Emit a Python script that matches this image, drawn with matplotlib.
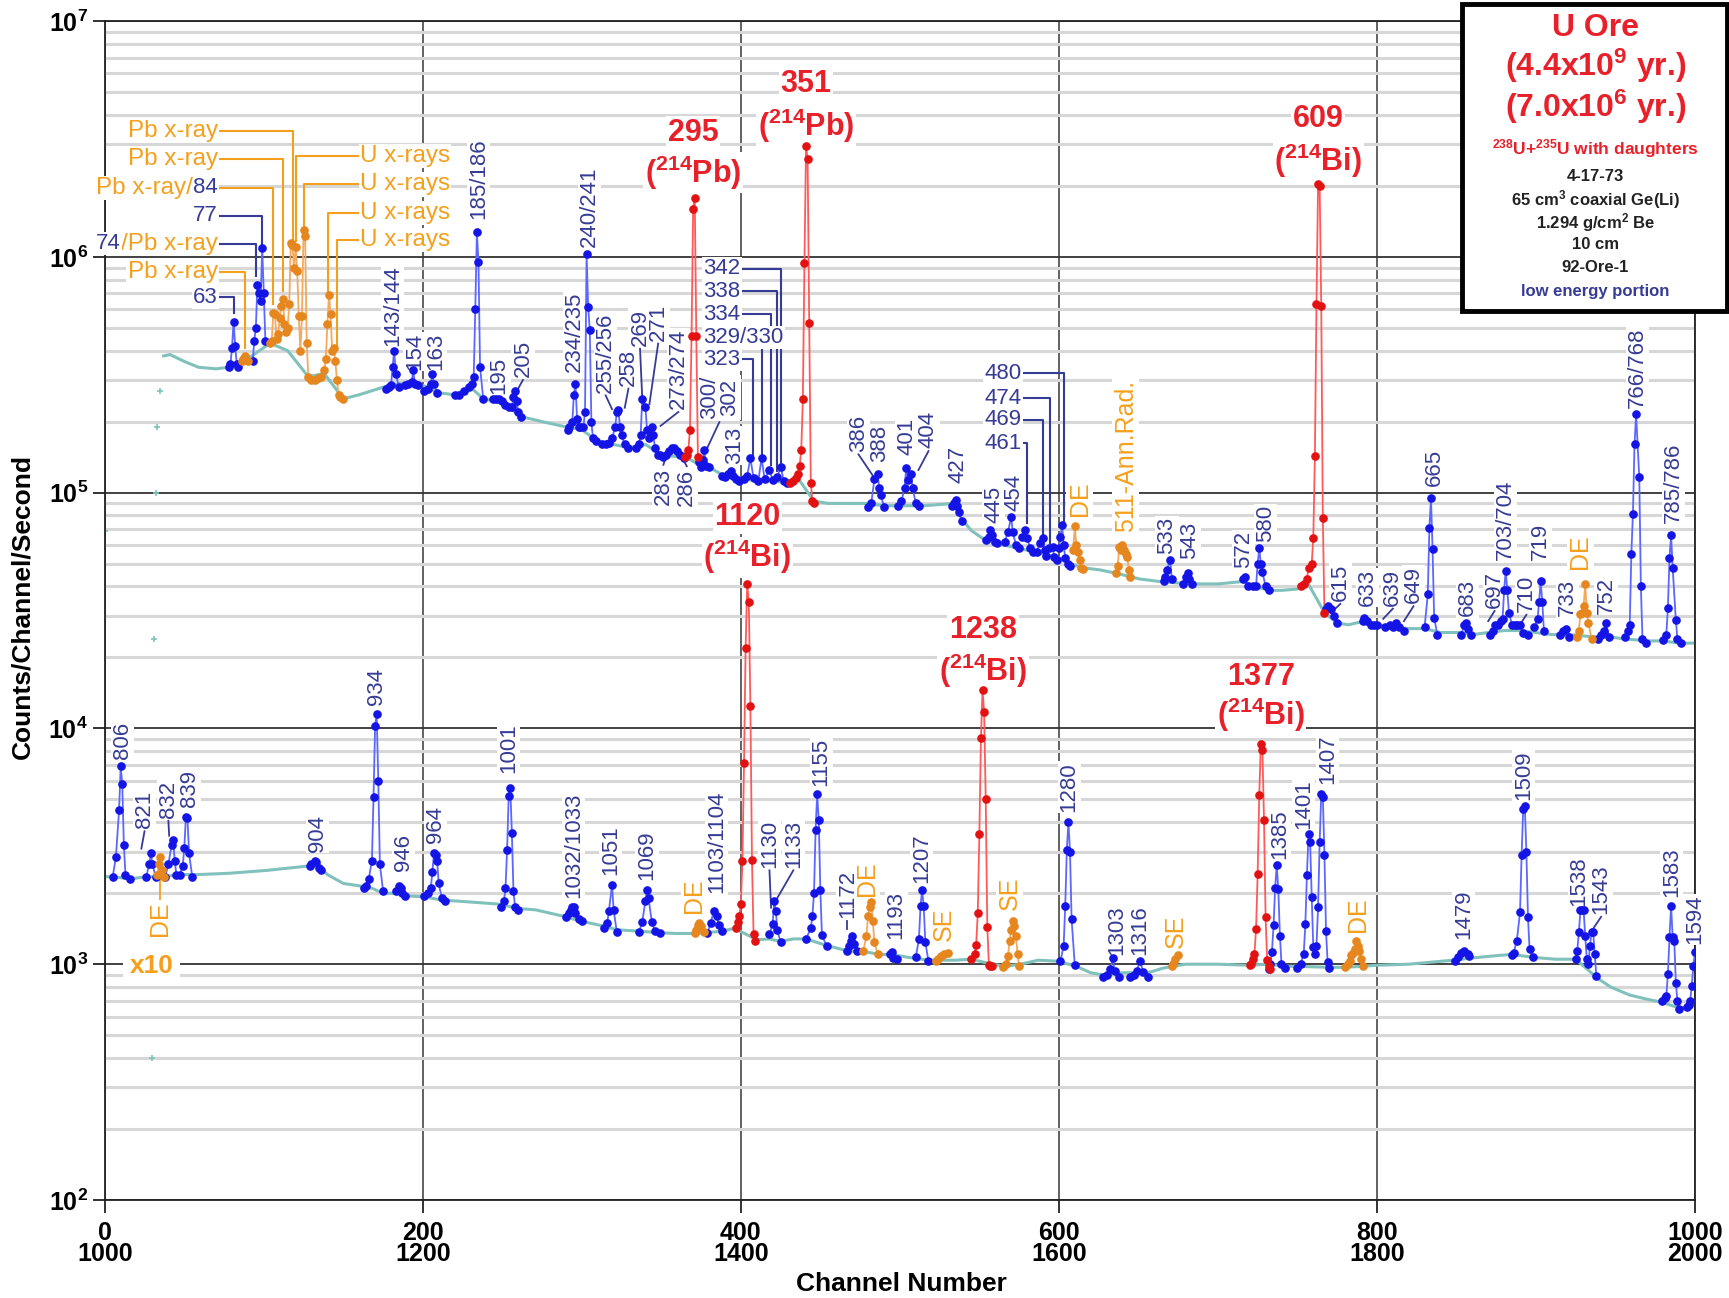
import numpy as np
import matplotlib
matplotlib.use('Agg')
import matplotlib.pyplot as plt
from matplotlib import font_manager
from matplotlib.patches import Rectangle

_names = {f.name for f in font_manager.fontManager.ttflist}
NARROW = 'Liberation Sans Narrow' if 'Liberation Sans Narrow' in _names else 'Liberation Sans'

plt.rcParams['font.family'] = ['Liberation Sans', 'DejaVu Sans']
plt.rcParams['mathtext.fontset'] = 'custom'
plt.rcParams['mathtext.rm'] = 'Liberation Sans:bold'
plt.rcParams['mathtext.it'] = 'Liberation Sans:bold'
plt.rcParams['mathtext.bf'] = 'Liberation Sans:bold'
plt.rcParams['mathtext.default'] = 'rm'

# ---------------- data: upper spectrum (channels 0-1000) ----------------
UP_BG = [(37,3.8e5),(41,3.85e5),(50,3.6e5),(59,3.4e5),(70,3.35e5),(78,3.4e5),(90,3.7e5),(104,4.3e5),
         (115,4.0e5),(128,3.1e5),(138,3.2e5),(150,2.5e5),(160,2.6e5),(175,2.8e5),(185,2.9e5),(200,2.85e5),
         (210,2.65e5),(220,2.6e5),(230,2.8e5),(238,2.5e5),(245,2.45e5),(252,2.35e5),(262,2.1e5),(275,2.0e5),
         (290,1.9e5),(300,1.85e5),(310,1.65e5),(320,1.6e5),(330,1.55e5),(340,1.6e5),(350,1.45e5),(360,1.42e5),
         (365,1.42e5),(375,1.3e5),(383,1.25e5),(390,1.17e5),(400,1.15e5),(410,1.12e5),(420,1.12e5),(430,1.1e5),
         (436,1.15e5),(446,9.2e4),(455,9.0e4),(465,9.0e4),(478,9.0e4),(490,8.8e4),(500,8.8e4),(515,8.8e4),
         (525,8.9e4),(534,9.0e4),(539,7.7e4),(545,6.9e4),(552,6.4e4),(560,6.1e4),(570,5.9e4),(580,5.7e4),
         (590,5.5e4),(600,5.3e4),(607,5.0e4),(615,4.8e4),(626,4.7e4),(636,4.55e4),(645,4.4e4),(651,4.3e4),
         (663,4.2e4),(672,4.15e4),(685,4.1e4),(700,4.1e4),(716,4.2e4),(724,4.0e4),(732,3.85e4),(740,3.85e4),
         (750,3.9e4),(756,4.2e4),(767,3.1e4),(775,2.8e4),(782,2.75e4),(792,2.85e4),(800,2.75e4),(810,2.7e4),
         (820,2.65e4),(830,2.65e4),(840,2.55e4),(853,2.55e4),(860,2.5e4),(870,2.55e4),(880,2.6e4),(890,2.6e4),
         (900,2.55e4),(910,2.5e4),(920,2.5e4),(935,2.45e4),(945,2.45e4),(955,2.4e4),(970,2.35e4),(980,2.35e4),
         (990,2.3e4),(1000,2.3e4)]
STRAY = [(0,6.9e4),(30,4.0e2),(31,2.4e4),(32,1.0e5),(33,1.9e5),(35,2.7e5)]

UP_BLUE = [
    ([78,79,80,81,82,83,84],[3.4e5,3.5e5,4.1e5,5.3e5,4.2e5,3.5e5,3.4e5]),
    ([93,94,95,96,97,98,99,100,101],[3.6e5,4.4e5,5.0e5,7.6e5,7.0e5,6.5e5,1.09e6,7.0e5,4.4e5]),
    ([177,179,180,181,182,183,185],[2.75e5,2.8e5,2.85e5,3.4e5,4.0e5,3.2e5,2.8e5]),
    ([189,191,193,194,195,197],[2.85e5,2.9e5,2.95e5,3.3e5,2.9e5,2.85e5]),
    ([201,203,205,206,207,209],[2.7e5,2.75e5,2.9e5,3.2e5,2.9e5,2.65e5]),
    ([220,223,226,229,231,232,233,234,235,236,238],[2.6e5,2.6e5,2.7e5,2.8e5,2.9e5,3.1e5,6.0e5,1.27e6,9.5e5,3.4e5,2.5e5]),
    ([244,246,248,250,252],[2.5e5,2.5e5,2.5e5,2.45e5,2.35e5]),
    ([254,256,257,258,259,260,262],[2.3e5,2.3e5,2.55e5,2.7e5,2.45e5,2.2e5,2.1e5]),
    ([291,292,294,295,296,297,298,299],[1.85e5,1.9e5,2.0e5,2.6e5,2.9e5,2.05e5,1.9e5,1.9e5]),
    ([301,302,303,304,305,306,307,309],[1.9e5,2.2e5,1.03e6,6.1e5,4.9e5,2.0e5,1.7e5,1.65e5]),
    ([313,315,317,319,321,322,323,324,325,327,329],[1.6e5,1.6e5,1.62e5,1.7e5,1.9e5,2.2e5,2.25e5,1.9e5,1.75e5,1.6e5,1.55e5]),
    ([334,336,337,338,340,341,342,344,345,346,348],[1.55e5,1.6e5,1.76e5,2.5e5,2.3e5,1.85e5,1.7e5,1.9e5,1.75e5,1.55e5,1.45e5]),
    ([349,351,353,355,357,358,360,362,364],[1.45e5,1.42e5,1.45e5,1.5e5,1.55e5,1.55e5,1.5e5,1.45e5,1.4e5]),
    ([374,375,376,377,378,380],[1.35e5,1.29e5,1.38e5,1.52e5,1.3e5,1.28e5]),
    ([388,390,392,394,395,397],[1.18e5,1.17e5,1.2e5,1.23e5,1.18e5,1.14e5]),
    ([399,402,404,406,408,411,413,415,418,420,423,425,427,429],
     [1.12e5,1.14e5,1.18e5,1.4e5,1.15e5,1.12e5,1.4e5,1.14e5,1.25e5,1.13e5,1.16e5,1.29e5,1.12e5,1.1e5]),
    ([480,482,484,486,487,488,490],[8.7e4,9.0e4,1.14e5,1.2e5,1.05e5,9.8e4,8.7e4]),
    ([499,501,503,504,505,507,508,510,512],[8.8e4,9.2e4,1.05e5,1.27e5,1.13e5,1.2e5,1.05e5,9.0e4,8.8e4]),
    ([533,534,535,536,537,539],[8.8e4,9.0e4,9.3e4,8.8e4,8.3e4,7.6e4]),
    ([554,556,557,558,560,561],[6.3e4,6.5e4,6.95e4,6.6e4,6.2e4,6.1e4]),
    ([566,568,570,571,573,575],[6.2e4,6.8e4,7.9e4,6.8e4,6.0e4,5.8e4]),
    ([577,579,580,582,584],[6.5e4,6.95e4,6.4e4,5.8e4,5.6e4]),
    ([586,588,590,591,592],[5.6e4,6.1e4,6.4e4,5.7e4,5.4e4]),
    ([594,596,597,599],[5.8e4,5.9e4,5.35e4,5.2e4]),
    ([600,601,602,603,604,606,607],[5.8e4,6.5e4,7.3e4,6.0e4,5.3e4,5.0e4,4.9e4]),
    ([666,667,668,670,671],[4.2e4,4.4e4,4.7e4,5.2e4,4.3e4]),
    ([678,680,681,682,684],[4.1e4,4.4e4,4.55e4,4.3e4,4.1e4]),
    ([716,717,719,722,724,725,726,727,728,730,732],[4.3e4,4.4e4,4.0e4,4.0e4,4.0e4,5.0e4,5.8e4,5.0e4,4.6e4,4.0e4,3.85e4]),
    ([768,769,771,773,775],[3.2e4,3.3e4,3.2e4,3.0e4,2.8e4]),
    ([791,792,794,796,798,800],[2.85e4,2.95e4,2.85e4,2.75e4,2.75e4,2.75e4]),
    ([805,808,810,812,814,817],[2.7e4,2.75e4,2.7e4,2.8e4,2.7e4,2.6e4]),
    ([830,832,833,834,835,836,838],[2.7e4,3.7e4,7.1e4,9.5e4,5.75e4,2.95e4,2.5e4]),
    ([853,855,856,857,859],[2.5e4,2.75e4,2.8e4,2.65e4,2.5e4]),
    ([871,873,874,876,878],[2.5e4,2.6e4,2.75e4,2.75e4,2.85e4]),
    ([879,880,881,882,883,885],[2.9e4,3.85e4,4.65e4,3.85e4,3.1e4,2.75e4]),
    ([887,888,890,892,895],[2.75e4,2.75e4,2.75e4,2.55e4,2.5e4]),
    ([899,901,902,903,904,905],[2.7e4,2.9e4,3.45e4,4.2e4,3.45e4,2.6e4]),
    ([915,917,919,921],[2.5e4,2.6e4,2.65e4,2.45e4]),
    ([939,941,943,944,946],[2.4e4,2.5e4,2.6e4,2.8e4,2.45e4]),
    ([956,958,959,960,961,962,963,965,966,967,969],[2.45e4,2.6e4,2.75e4,5.5e4,8.1e4,1.6e5,2.15e5,1.16e5,4.0e4,2.4e4,2.3e4]),
    ([980,982,983,984,985,986,988,989,991],[2.37e4,2.5e4,3.25e4,5.3e4,6.6e4,4.8e4,2.87e4,2.4e4,2.3e4]),
]
UP_ORANGE = [
    ([86,87,88,89,90],[3.6e5,3.7e5,3.8e5,3.7e5,3.6e5]),
    ([104,105,106,107,108,109,110,111,112,113,114,115,116,117,118,119,120,121,122,123,124,125,126,127,128,
      130,132,134,136,138,139,140,141,142,143,144,145,146,147,148,150],
     [4.3e5,4.4e5,5.8e5,5.7e5,4.5e5,4.7e5,5.5e5,6.2e5,6.6e5,5.2e5,4.8e5,5.0e5,6.3e5,1.15e6,1.12e6,9.0e5,1.1e6,
      8.7e5,5.6e5,4.0e5,5.6e5,1.3e6,1.22e6,4.3e5,3.1e5,3.0e5,3.0e5,3.05e5,3.1e5,3.3e5,3.7e5,5.2e5,6.9e5,5.7e5,
      4.0e5,4.1e5,3.6e5,3.0e5,2.6e5,2.55e5,2.5e5]),
    ([609,610,611,612,613,614,615],[5.7e4,7.2e4,6.0e4,5.6e4,5.2e4,4.8e4,4.75e4]),
    ([636,637,638,639,640,641,642,643,644,645],[4.55e4,4.9e4,5.9e4,5.7e4,6.0e4,5.7e4,5.5e4,5.35e4,4.7e4,4.4e4]),
    ([926,927,928,929,930,931,932,933,935],[2.45e4,2.6e4,3.05e4,3.1e4,3.3e4,4.1e4,3.1e4,2.8e4,2.4e4]),
]
UP_RED = [
    ([365,366,367,368,369,370,371,372,373],[1.42e5,1.45e5,1.52e5,1.85e5,4.6e5,1.6e6,1.78e6,4.6e5,1.42e5]),
    ([431,433,435,436,437,438,439,440,441,442,443,444,445,446],
     [1.1e5,1.12e5,1.15e5,1.2e5,1.3e5,1.52e5,2.5e5,9.4e5,2.95e6,2.6e6,5.25e5,1.1e5,9.2e4,9.0e4]),
    ([752,754,756,757,759,760,761,762,763,764,765,766,767],
     [4.0e4,4.1e4,4.3e4,4.8e4,5.0e4,6.4e4,1.43e5,6.3e5,2.03e6,2.0e6,6.2e5,7.8e4,3.1e4]),
]

# ---------------- data: lower spectrum (x10), channel minus 1000 ----------------
LO_BG = [(0,2.35e3),(5,2.35e3),(16,2.3e3),(26,2.35e3),(37,2.35e3),(47,2.4e3),(59,2.4e3),(78,2.43e3),
         (102,2.5e3),(126,2.6e3),(133,2.65e3),(140,2.4e3),(150,2.2e3),(160,2.15e3),(168,2.1e3),(175,2.0e3),
         (183,2.0e3),(190,1.95e3),(201,1.93e3),(212,1.87e3),(223,1.85e3),(247,1.8e3),(261,1.72e3),(271,1.7e3),
         (288,1.6e3),(300,1.52e3),(314,1.45e3),(322,1.4e3),(336,1.38e3),(349,1.36e3),(359,1.35e3),(372,1.35e3),
         (388,1.38e3),(396,1.42e3),(410,1.27e3),(418,1.28e3),(425,1.25e3),(433,1.28e3),(441,1.28e3),(454,1.2e3),
         (467,1.14e3),(473,1.13e3),(478,1.13e3),(487,1.1e3),(495,1.1e3),(505,1.07e3),(518,1.04e3),(523,1.04e3),
         (535,1.04e3),(545,1.05e3),(558,1.0e3),(566,9.8e2),(576,1.0e3),(587,1.04e3),(599,1.03e3),(611,9.8e2),
         (620,9.2e2),(628,9.0e2),(640,9.2e2),(656,9.2e2),(665,9.6e2),(671,9.8e2),(680,1.0e3),(700,1.0e3),
         (719,9.9e2),(732,1.0e3),(742,9.8e2),(750,9.8e2),(770,9.7e2),(780,9.7e2),(791,9.8e2),(800,9.9e2),
         (820,1.0e3),(848,1.04e3),(858,1.06e3),(877,1.09e3),(885,1.1e3),(898,1.07e3),(912,1.05e3),(925,1.05e3),
         (939,8.7e2),(947,8.0e2),(959,7.4e2),(970,7.1e2),(979,6.9e2),(991,6.5e2),(996,6.6e2)]

LO_BLUE = [
    ([5,7,9,10,11,12,13,16],[2.35e3,2.85e3,4.5e3,6.9e3,5.8e3,3.2e3,2.4e3,2.3e3]),
    ([26,28,29,30,32],[2.35e3,2.65e3,2.95e3,2.65e3,2.35e3]),
    ([38,40,42,43,44,45],[2.35e3,2.65e3,3.2e3,3.35e3,2.75e3,2.4e3]),
    ([47,49,50,51,52,53,55],[2.4e3,2.6e3,3.1e3,4.2e3,4.15e3,2.95e3,2.35e3]),
    ([129,130,132,133,135,136],[2.6e3,2.65e3,2.75e3,2.7e3,2.55e3,2.5e3]),
    ([163,164,166,168,169,170,171,172,173,175],[2.1e3,2.15e3,2.3e3,2.75e3,5.1e3,1.02e4,1.15e4,6.0e3,2.65e3,2.05e3]),
    ([183,185,186,187,189],[2.05e3,2.15e3,2.1e3,2.0e3,1.95e3]),
    ([201,203,205,206,207,208,209,210,212,214],[1.95e3,2.0e3,2.1e3,2.45e3,2.95e3,2.9e3,2.75e3,2.2e3,1.9e3,1.85e3]),
    ([249,251,252,253,254,255,256,257,258,260],[1.75e3,1.85e3,2.1e3,3.05e3,5.15e3,5.6e3,3.6e3,2.05e3,1.75e3,1.7e3]),
    ([290,292,293,294,295,296,298,300],[1.58e3,1.65e3,1.7e3,1.75e3,1.75e3,1.65e3,1.55e3,1.52e3]),
    ([314,316,317,319,320,322],[1.42e3,1.5e3,1.68e3,2.17e3,1.7e3,1.37e3]),
    ([336,338,340,341,342,344,346,349],[1.37e3,1.51e3,1.86e3,2.06e3,1.9e3,1.51e3,1.38e3,1.35e3]),
    ([379,381,383,385,386,388],[1.36e3,1.49e3,1.68e3,1.6e3,1.47e3,1.38e3]),
    ([418,420,421,422,423,425],[1.34e3,1.48e3,1.86e3,1.68e3,1.39e3,1.24e3]),
    ([441,444,445,446,447,448,449,450,451,454],[1.28e3,1.42e3,1.6e3,2.0e3,3.7e3,5.25e3,4.1e3,2.06e3,1.33e3,1.19e3]),
    ([467,468,469,470,471,473],[1.14e3,1.2e3,1.25e3,1.32e3,1.22e3,1.14e3]),
    ([494,495,496,498],[1.11e3,1.13e3,1.06e3,1.05e3]),
    ([510,512,513,514,515,516,518],[1.07e3,1.28e3,1.77e3,2.06e3,1.77e3,1.24e3,1.03e3]),
    ([601,603,604,605,606,607,608,610],[1.03e3,1.2e3,1.77e3,3.06e3,4.0e3,2.99e3,1.55e3,9.9e2]),
    ([628,630,632,634,635,638],[8.8e2,9.0e2,9.5e2,1.06e3,9.4e2,8.8e2]),
    ([645,647,649,651,653,656],[8.8e2,9.0e2,9.4e2,1.03e3,9.3e2,8.8e2]),
    ([732,733,734,735,736,737,738,739,740,742],[9.5e2,1.0e3,1.13e3,1.46e3,2.1e3,2.63e3,2.08e3,1.32e3,1.0e3,9.6e2]),
    ([750,752,754,755,756,757,758,759,760,761,762,763,764,765,766,767,768,769,770],
     [9.6e2,1.0e3,1.11e3,1.48e3,2.4e3,3.57e3,3.3e3,1.93e3,1.18e3,1.1e3,1.2e3,1.74e3,3.3e3,5.25e3,5.1e3,2.9e3,1.38e3,1.02e3,9.6e2]),
    ([849,851,853,855,857,858],[1.03e3,1.07e3,1.12e3,1.14e3,1.1e3,1.08e3]),
    ([885,886,888,890,891,892,893,894,895,896,898],[1.09e3,1.12e3,1.26e3,1.66e3,2.9e3,4.57e3,4.7e3,2.98e3,1.58e3,1.16e3,1.07e3]),
    ([925,926,927,928,929,930,931,932,933,934,935,936,937,938],
     [1.05e3,1.14e3,1.37e3,1.69e3,1.7e3,1.69e3,1.32e3,1.05e3,1.0e3,1.2e3,1.37e3,1.37e3,1.1e3,8.9e2]),
    ([979,981,982,983,984,985,986,987,988,989,990],[7.0e2,7.2e2,7.35e2,9.1e2,1.3e3,1.77e3,1.3e3,1.26e3,8.3e2,7.0e2,6.45e2]),
    ([995,996,997,998,999,1000],[6.6e2,6.7e2,7.0e2,8.1e2,9.8e2,1.13e3]),
]
LO_ORANGE = [
    ([33,34,35,36,37],[2.4e3,2.65e3,2.85e3,2.5e3,2.35e3]),
    ([371,372,373,374,375,377],[1.35e3,1.4e3,1.47e3,1.5e3,1.45e3,1.37e3]),
    ([477,479,480,481,482,483,484,486],[1.14e3,1.32e3,1.6e3,1.75e3,1.83e3,1.52e3,1.24e3,1.11e3]),
    ([523,524,526,528,530],[1.03e3,1.05e3,1.08e3,1.11e3,1.12e3]),
    ([565,567,568,569,570,571,572,573,574,575],[9.7e2,1.0e3,1.08e3,1.26e3,1.39e3,1.52e3,1.45e3,1.32e3,1.11e3,9.8e2]),
    ([671,672,673,675],[9.8e2,1.0e3,1.05e3,1.09e3]),
    ([780,782,783,784,785,786,787,788,789,790,791],[9.7e2,1.0e3,1.03e3,1.09e3,1.12e3,1.16e3,1.26e3,1.2e3,1.14e3,1.05e3,9.8e2]),
]
LO_RED = [
    ([397,398,399,400,401,402,403,404,405,406,407,408,409],
     [1.42e3,1.51e3,1.6e3,1.8e3,2.75e3,7.1e3,2.2e4,4.1e4,3.45e4,1.25e4,2.76e3,1.34e3,1.25e3]),
    ([545,547,548,549,550,551,552,553,554,555,556,557,558],
     [1.05e3,1.1e3,1.21e3,1.65e3,3.55e3,9.1e3,1.45e4,1.17e4,5.0e3,1.44e3,9.9e2,9.8e2,9.8e2]),
    ([720,721,722,723,724,725,726,727,728,729,730,731,732,733],
     [9.9e2,1.0e3,1.05e3,1.11e3,1.41e3,2.42e3,5.2e3,8.6e3,8.1e3,4.07e3,1.58e3,1.04e3,9.8e2,9.5e2]),
]

X_TICKS = [0, 200, 400, 600, 800, 1000]
X_TICKS_LOW = [1000, 1200, 1400, 1600, 1800, 2000]
Y_EXP = [2, 3, 4, 5, 6, 7]

# ---------------- annotation layout ----------------
ROT_LABELS = [  # text, x, log10(bottom), colour, leader end (x, log10 y)
    ('143/144',181,5.62,'b',None),('154',195,5.52,'b',None),('163',208,5.52,'b',None),
    ('185/186',235,6.16,'b',None),('195',248,5.42,'b',None),('205',263,5.49,'b',(259,5.43)),
    ('234/235',295.5,5.51,'b',None),('240/241',305,6.04,'b',None),('255/256',315,5.424,'b',(319,5.354)),
    ('258',329.3,5.453,'b',(327,5.36)),('269',336.6,5.622,'b',(338,5.40)),('271',348,5.644,'b',(342.5,5.375)),
    ('273/274',360.7,5.354,'b',(349.5,5.283)),('300/\n302',386.5,5.311,'b',(378,5.177)),('313',395.8,5.12,'b',None),
    ('386',474,5.174,'b',(483.4,5.068)),('388',487.5,5.13,'b',None),('401',504.4,5.16,'b',None),
    ('404',518,5.188,'b',(511.7,5.096)),('427',536.8,5.04,'b',None),('445',559,4.87,'b',None),
    ('454',572,4.92,'b',None),('DE',613,4.90,'o',None),('511-Ann.Rad.',642,4.835,'o',None),
    ('533',668,4.74,'b',None),('543',682,4.72,'b',None),('572',716,4.68,'b',None),('580',730,4.79,'b',None),
    ('615',777,4.54,'b',(771,4.49)),('633',794,4.52,'b',None),('639',810,4.52,'b',(804,4.465)),
    ('649',823,4.53,'b',(817,4.455)),('665',836,5.03,'b',None),('683',857,4.475,'b',None),
    ('697',874,4.51,'b',(870,4.455)),('703/704',881,4.715,'b',None),('710',894,4.494,'b',(890,4.44)),
    ('719',903,4.715,'b',None),('733',920,4.475,'b',None),('DE',928,4.678,'o',None),('752',944,4.484,'b',None),
    ('766/768',964,5.36,'b',None),('785/786',986.5,4.87,'b',None),
    ('806',11,3.87,'b',None),('821',25,3.576,'b',(23,3.49)),('832',40,3.62,'b',(40.5,3.545)),
    ('839',53.5,3.667,'b',None),('904',134,3.477,'b',None),('934',171,4.098,'b',None),('946',188,3.394,'b',None),
    ('964',208,3.515,'b',None),('1001',254,3.81,'b',None),('1032/1033',295,3.28,'b',None),
    ('1051',318,3.38,'b',None),('1069',341,3.358,'b',None),('DE',370.6,3.217,'o',None),
    ('1103/1104',384.6,3.30,'b',None),('1130',418,3.41,'b',(419,3.24)),('1133',433,3.41,'b',(422,3.27)),
    ('1155',450.5,3.757,'b',None),('1172',467,3.195,'b',(467,3.15)),('DE',479.4,3.29,'o',None),
    ('1193',497.7,3.107,'b',None),('1207',513.8,3.343,'b',None),('SE',527.6,3.10,'o',None),
    ('SE',569,3.232,'o',None),('1280',606.5,3.646,'b',None),('1303',636.6,3.04,'b',None),
    ('1316',651,3.04,'b',None),('SE',673.7,3.07,'o',None),('1385',738.8,3.447,'b',None),
    ('1401',754,3.574,'b',None),('1407',769,3.766,'b',None),('DE',788.4,3.135,'o',None),
    ('1479',854.4,3.106,'b',None),('1509',892.3,3.695,'b',None),('1538',927.2,3.248,'b',None),
    ('1543',941,3.213,'b',(936.5,3.156)),('1583',985.3,3.284,'b',None),('1594',1000,3.085,'b',None),
]
ROT_BELOW = [  # text hanging below the curve: text, x, log10(top), colour, leader end
    ('283',351.3,5.106,'b',(353,5.156)),('286',366,5.10,'b',(363,5.149)),('DE',35,3.265,'o',(35,3.41)),
]
HLABELS = [  # parts, x of text, log10 y, ha, leader start x, leader corner x, leader end log10 y, colour
    ([('Pb x-ray','o')],71,6.533,'right',72.5,118.1,6.052,'o'),
    ([('Pb x-ray','o')],71,6.413,'right',72.5,112,5.854,'o'),
    ([('Pb x-ray/','o'),('84','b')],71,6.293,'right',72.5,106,5.80,'o'),
    ([('77','b')],71,6.175,'right',72.5,98.8,6.038,'b'),
    ([('74','b'),('/Pb x-ray','o')],71,6.055,'right',72.5,95.2,5.918,'b'),
    ([('Pb x-ray','o')],71,5.935,'right',72.5,88,5.614,'o'),
    ([('63','b')],71,5.829,'right',72.5,81.2,5.762,'b'),
    ([('U x-rays','o')],160.5,6.427,'left',159,120.5,6.066,'o'),
    ([('U x-rays','o')],160.5,6.307,'left',159,125.3,6.116,'o'),
    ([('U x-rays','o')],160.5,6.187,'left',159,140.5,5.847,'o'),
    ([('U x-rays','o')],160.5,6.071,'left',159,145.8,5.62,'o'),
    ([('342','b')],376.5,5.95,'left',401.6,425.2,5.12,'b'),
    ([('338','b')],376.5,5.853,'left',401.6,422.6,5.09,'b'),
    ([('334','b')],376.5,5.757,'left',401.6,418.9,5.117,'b'),
    ([('329/330','b')],376.5,5.658,'left',401.6,413.2,5.15,'b'),
    ([('323','b')],376.5,5.566,'left',401.6,407.5,5.145,'b'),
    ([('480','b')],576.5,5.506,'right',578,603,4.877,'b'),
    ([('474','b')],576.5,5.40,'right',578,594.5,4.785,'b'),
    ([('469','b')],576.5,5.308,'right',578,590,4.82,'b'),
    ([('461','b')],576.5,5.209,'right',578,580,4.87,'b'),
]
RED_LABELS = [  # energy, isotope, x, log10 y of energy, log10 y of isotope
    ('295',r'($^{214}$Pb)',370,6.527,6.357),('351',r'($^{214}$Pb)',441,6.732,6.555),
    ('609',r'($^{214}$Bi)',763,6.584,6.409),('1120',r'($^{214}$Bi)',404,4.896,4.726),
    ('1238',r'($^{214}$Bi)',552.3,4.416,4.246),('1377',r'($^{214}$Bi)',727,4.22,4.057),
]

# ---------------- styles ----------------
NAVY = '#363b95'
ORANGE_T = '#f5a01c'
RED_T = '#e8202a'
TXT = {'b': NAVY, 'o': ORANGE_T}
DOT = {'b': '#1414e6', 'o': '#e6861e', 'r': '#e31212'}
LINE = {'b': '#5b67ff', 'o': '#f3aa5e', 'r': '#ff5a5a'}
TEAL = '#80c2bb'
BOX = dict(boxstyle='square,pad=0.05', fc='white', ec='none')

fig = plt.figure(figsize=(17.29, 12.98), dpi=100)
ax = fig.add_axes([0.0606, 0.0755, 0.9197, 0.9083])
ax.set_yscale('log')
ax.set_xlim(0, 1000)
ax.set_ylim(1e2, 1e7)

ax.set_xticks(X_TICKS)
ax.set_xticklabels([f'{a}\n{b}' for a, b in zip(X_TICKS, X_TICKS_LOW)],
                   fontfamily=NARROW, fontweight='bold', fontsize=18, linespacing=0.85)
ax.set_yticks([10.0 ** e for e in Y_EXP])
ax.set_yticklabels([f'10$^{{{e}}}$' for e in Y_EXP], fontfamily=NARROW, fontweight='bold', fontsize=18)
ax.yaxis.set_minor_locator(matplotlib.ticker.LogLocator(base=10, subs=np.arange(2, 10), numticks=50))
ax.yaxis.set_minor_formatter(matplotlib.ticker.NullFormatter())
ax.tick_params(axis='both', which='major', direction='out', length=9, width=1.3, color='#222222', pad=3)
ax.tick_params(axis='x', which='major', pad=6)
ax.tick_params(which='minor', length=0)
ax.set_axisbelow(True)
ax.yaxis.grid(True, which='minor', color='#d7d7d7', lw=2.2, zorder=0)
ax.yaxis.grid(True, which='major', color='#333333', lw=1.3, zorder=0.5)
ax.xaxis.grid(True, which='major', color='#555555', lw=1.3, zorder=0.5)
for s in ax.spines.values():
    s.set_color('#222222')
    s.set_linewidth(1.3)

# background continua
for bg in (UP_BG, LO_BG):
    bx, by = zip(*bg)
    ax.plot(bx, by, '-', color=TEAL, lw=2.2, zorder=2, solid_joinstyle='round')
sx, sy = zip(*STRAY)
ax.plot(sx, sy, '+', color=TEAL, ms=5, mew=1.2, ls='none', zorder=2)


def draw(segs, key):
    for chs, vals in segs:
        n = min(len(chs), len(vals))
        ax.plot(chs[:n], vals[:n], '-', color=LINE[key], lw=1.3, zorder=4)
        ax.plot(chs[:n], vals[:n], 'o', color=DOT[key], ms=5.2, mec=DOT[key], ls='none', zorder=5)


draw(UP_BLUE, 'b'); draw(UP_ORANGE, 'o'); draw(UP_RED, 'r')
draw(LO_BLUE, 'b'); draw(LO_ORANGE, 'o'); draw(LO_RED, 'r')

# rotated peak labels
for txt, x, ly, c, lead in ROT_LABELS:
    fs = 16 if c == 'b' else 18
    ax.text(x, 10 ** ly, txt, rotation=90, ha='center', va='bottom', color=TXT[c], fontsize=fs,
            linespacing=0.95, bbox=BOX, zorder=3)
    if lead is not None:
        ax.plot([x, lead[0]], [10 ** (ly - 0.012), 10 ** lead[1]], '-', color=TXT[c], lw=1.3, zorder=3.5)
for txt, x, ly, c, lead in ROT_BELOW:
    fs = 16 if c == 'b' else 18
    ax.text(x, 10 ** ly, txt, rotation=90, ha='center', va='top', color=TXT[c], fontsize=fs,
            bbox=BOX, zorder=3)
    if lead is not None:
        ax.plot([x, lead[0]], [10 ** (ly + 0.012), 10 ** lead[1]], '-', color=TXT[c], lw=1.3, zorder=3.5)

# horizontal labels with elbow leaders (leaders drawn beneath the label boxes)
for parts, x, ly, ha, xs, xc, lend, lc in HLABELS:
    y = 10 ** ly
    seq = parts[::-1] if ha == 'right' else parts
    prev = None
    for s, c in seq:
        fs = 16 if c == 'b' else 17.5
        if prev is None:
            prev = ax.text(x, y, s, ha=ha, va='center', color=TXT[c], fontsize=fs, bbox=BOX, zorder=3.2)
        else:
            prev = ax.annotate(s, xy=(0, 0.5) if ha == 'right' else (1, 0.5), xycoords=prev,
                               ha=ha, va='center', color=TXT[c], fontsize=fs, bbox=BOX, zorder=3.2)
    ax.plot([xs, xc, xc], [y, y, 10 ** lend], '-', color=TXT[lc], lw=1.5, zorder=3.1)

# red labels
for e, iso, x, ly1, ly2 in RED_LABELS:
    ax.text(x, 10 ** ly1, e, ha='center', va='center', color=RED_T, fontsize=22, fontweight='bold',
            bbox=BOX, zorder=3)
    ax.text(x, 10 ** ly2, iso, ha='center', va='center', color=RED_T, fontsize=22, fontweight='bold',
            bbox=BOX, zorder=3)

ax.text(29.4, 10 ** 2.992, 'x10', ha='center', va='center', color=ORANGE_T, fontsize=19,
        fontweight='bold', bbox=dict(boxstyle='square,pad=0.25', fc='white', ec='none'), zorder=3)

# axis titles
fig.text(0.5215, 0.0105, 'Channel Number', ha='center', va='center', fontsize=19, fontweight='bold')
fig.text(0.0127, 0.533, 'Counts/Channel/Second', ha='center', va='center', rotation=90,
         fontsize=19, fontweight='bold')

# info box
bx0, by0 = 1462 / 1729, 1 - 311 / 1298
fig.add_artist(Rectangle((bx0, by0), (1727 - 1462) / 1729, 307 / 1298, transform=fig.transFigure,
                         fc='white', ec='black', lw=3.5, zorder=10))
cx = 1595.5 / 1729
box_lines = [
    ('U Ore', 0.9787, 23, RED_T),
    (r'(4.4x10$^{9}$ yr.)', 0.9490, 23, RED_T),
    (r'(7.0x10$^{6}$ yr.)', 0.9176, 23, RED_T),
    (r'$^{238}$U+$^{235}$U with daughters', 0.8853, 12.5, RED_T),
    ('4-17-73', 0.8641, 12, '#222222'),
    (r'65 cm$^{3}$ coaxial Ge(Li)', 0.8462, 12, '#222222'),
    (r'1.294 g/cm$^{2}$ Be', 0.8284, 12, '#222222'),
    ('10 cm', 0.8114, 12, '#222222'),
    ('92-Ore-1', 0.7936, 12, '#222222'),
    ('low energy portion', 0.7757, 12, NAVY),
]
for s, y, fs, c in box_lines:
    fig.text(cx, y, s, ha='center', va='center', fontsize=fs, fontweight='bold', color=c, zorder=11)

fig.savefig('out.png', dpi=100)
